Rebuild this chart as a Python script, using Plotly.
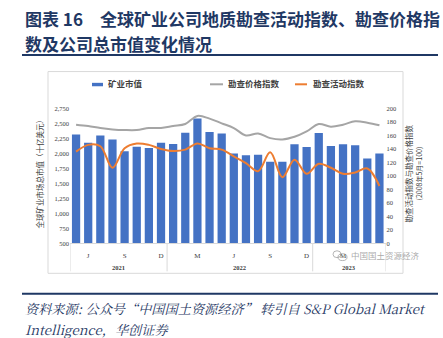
import plotly.graph_objects as go

W, H = 443, 338

months = ["2021-05","2021-06","2021-07","2021-08","2021-09","2021-10","2021-11","2021-12",
          "2022-01","2022-02","2022-03","2022-04","2022-05","2022-06","2022-07","2022-08",
          "2022-09","2022-10","2022-11","2022-12",
          "2023-01","2023-02","2023-03","2023-04","2023-05","2023-06"]
market_value = [2315, 2177, 2298, 2233, 2037, 2112, 2091, 2177, 2156, 2347, 2581, 2357, 2331,
                1999, 1971, 1976, 1862, 1862, 2151, 2107, 2342, 2123, 2151, 2135, 1916, 1999]
price_index = [176, 174, 171, 169, 168, 168, 171, 171, 174, 177, 189, 185, 178,
               171, 160, 163, 156, 154, 158, 166, 177, 173, 176, 181, 179, 175]
activity_index = [136, 146, 144, 112, 141, 148, 146, 140, 137, 139, 148, 141, 139,
                  129, 119, 107, 135, 98, 124, 103, 118, 112, 103, 105, 111, 85]
tick_months = ["2021-06","2021-09","2021-12","2022-03","2022-06","2022-09","2022-12","2023-03"]
tick_text = ["J","S","D","M","J","S","D","M"]
left_ticks = [500, 750, 1000, 1250, 1500, 1750, 2000, 2250, 2500, 2750]
right_ticks = [0, 20, 40, 60, 80, 100, 120, 140, 160, 180, 200]

def px(x):
    return x / W

def py(y):
    return 1 - y / H

BLUE = "#4472C4"
GRAY = "#A5A5A5"
ORANGE = "#ED7D31"
NAVY = "#1f3864"
TXT = "#404040"
SERIF = "Liberation Serif"
CJK = "Noto Sans CJK SC"

fig = go.Figure()
fig.add_trace(go.Bar(x=months, y=market_value, name="矿业市值", marker_color=BLUE,
                     marker_line_width=0, yaxis="y", showlegend=False))
fig.add_trace(go.Scatter(x=months, y=price_index, name="勘查价格指数", mode="lines",
                         line=dict(color=GRAY, width=2, shape="spline", smoothing=1),
                         yaxis="y2", showlegend=False))
fig.add_trace(go.Scatter(x=months, y=activity_index, name="勘查活动指数", mode="lines",
                         line=dict(color=ORANGE, width=2, shape="spline", smoothing=1),
                         yaxis="y2", showlegend=False))

x0, x1 = 70, 385.5
ytop, ybot = 106.7, 244.3
fig.update_layout(
    width=W, height=H, margin=dict(l=0, r=0, t=0, b=0),
    paper_bgcolor="white", plot_bgcolor="white",
    bargap=0.32,
    xaxis=dict(domain=[px(x0), px(x1)], type="category", range=[-0.5, len(months) - 0.5],
               tickvals=tick_months, ticktext=tick_text, ticks="", showgrid=False,
               showline=True, linecolor="#d9d9d9", linewidth=1,
               tickfont=dict(family=SERIF, size=7, color=TXT), ticklabelstandoff=5),
    yaxis=dict(domain=[py(ybot), py(ytop)], range=[500, 2750], tickvals=left_ticks,
               tickformat=",", showgrid=False, zeroline=False, ticks="",
               tickfont=dict(family=SERIF, size=6.5, color=TXT)),
    yaxis2=dict(domain=[py(ybot), py(ytop)], range=[0, 200], tickvals=right_ticks,
                overlaying="y", side="right", showgrid=False, zeroline=False, ticks="",
                tickfont=dict(family=SERIF, size=6.5, color=TXT)),
)

shapes = []
# outer chart box
shapes.append(dict(type="rect", xref="paper", yref="paper", x0=px(48), x1=px(403),
                   y0=py(275), y1=py(69), line=dict(color="#d9d9d9", width=1)))
# year separators
years = [m[:4] for m in months]
bounds = [0]
for i in range(1, len(months)):
    if years[i] != years[i - 1]:
        bounds.append(i)
bounds.append(len(months))
for b in bounds:
    shapes.append(dict(type="line", xref="x", yref="paper", x0=b - 0.5, x1=b - 0.5,
                       y0=py(ybot), y1=py(273), line=dict(color="#d9d9d9", width=1)))
# title rule and source rule
shapes.append(dict(type="line", xref="paper", yref="paper", x0=px(22), x1=px(438),
                   y0=py(52), y1=py(52), line=dict(color=NAVY, width=2)))
shapes.append(dict(type="line", xref="paper", yref="paper", x0=px(22), x1=px(438),
                   y0=py(296), y1=py(296), line=dict(color=NAVY, width=2)))
# legend markers
shapes.append(dict(type="rect", xref="paper", yref="paper", x0=px(92), x1=px(103),
                   y0=py(84), y1=py(80.5), fillcolor=BLUE, line=dict(width=0)))
shapes.append(dict(type="line", xref="paper", yref="paper", x0=px(210), x1=px(223),
                   y0=py(82), y1=py(82), line=dict(color=GRAY, width=2)))
shapes.append(dict(type="line", xref="paper", yref="paper", x0=px(295), x1=px(307),
                   y0=py(82), y1=py(82), line=dict(color=ORANGE, width=2)))
# watermark icon (two small bubbles)
shapes.append(dict(type="circle", xref="paper", yref="paper", x0=px(333), x1=px(341),
                   y0=py(259), y1=py(252), line=dict(color="rgba(150,150,150,0.7)", width=1)))
shapes.append(dict(type="circle", xref="paper", yref="paper", x0=px(338), x1=px(347),
                   y0=py(262), y1=py(255), line=dict(color="rgba(150,150,150,0.7)", width=1)))
fig.update_layout(shapes=shapes)

ann = []
def text(x, y, s, size, color=TXT, family=CJK, xanchor="left", angle=0, **kw):
    ann.append(dict(xref="paper", yref="paper", x=px(x), y=py(y), text=s, showarrow=False,
                    xanchor=xanchor, yanchor="middle", textangle=angle,
                    font=dict(size=size, color=color, family=family), **kw))

# title
text(23, 15, "<b>图表 16</b>", 17, NAVY)
text(98, 15, "<b>全球矿业公司地质勘查活动指数、勘查价格指</b>", 17, NAVY)
text(23, 40, "<b>数及公司总市值变化情况</b>", 17, NAVY)
# legend texts
text(106, 81, "<b>矿业市值</b>", 8.5)
text(226, 81, "<b>勘查价格指数</b>", 8.5)
text(311, 81, "<b>勘查活动指数</b>", 8.5)
# axis titles
text(39, 172, "全球矿业市场总市值（十亿美元）", 7.5, xanchor="center", angle=-90)
text(408, 173, "勘查活动指数与勘查价格指数", 7.5, xanchor="center", angle=-90)
text(419, 173, "(2008年5月=100)", 7, xanchor="center", angle=-90)
# year labels
for i in range(len(bounds) - 1):
    mid = (bounds[i] + bounds[i + 1] - 1) / 2
    ann.append(dict(xref="x", yref="paper", x=mid, y=py(269), text="<b>" + years[bounds[i]] + "</b>",
                    showarrow=False, yanchor="middle",
                    font=dict(size=6.5, color=TXT, family=SERIF)))
# watermark
text(349, 256.5, "中国国土资源经济", 8.5, color="rgba(140,140,140,0.75)")
# source
text(23, 311, "<i>资料来源: 公众号“中国国土资源经济” 转引自 S&P Global Market</i>", 13.2, NAVY,
     family="Noto Serif CJK SC, Liberation Serif, Noto Sans CJK SC")
text(23, 332, "<i>Intelligence，华创证券</i>", 13.2, NAVY,
     family="Noto Serif CJK SC, Liberation Serif, Noto Sans CJK SC")
fig.update_layout(annotations=ann)

fig.write_html("out.html")
